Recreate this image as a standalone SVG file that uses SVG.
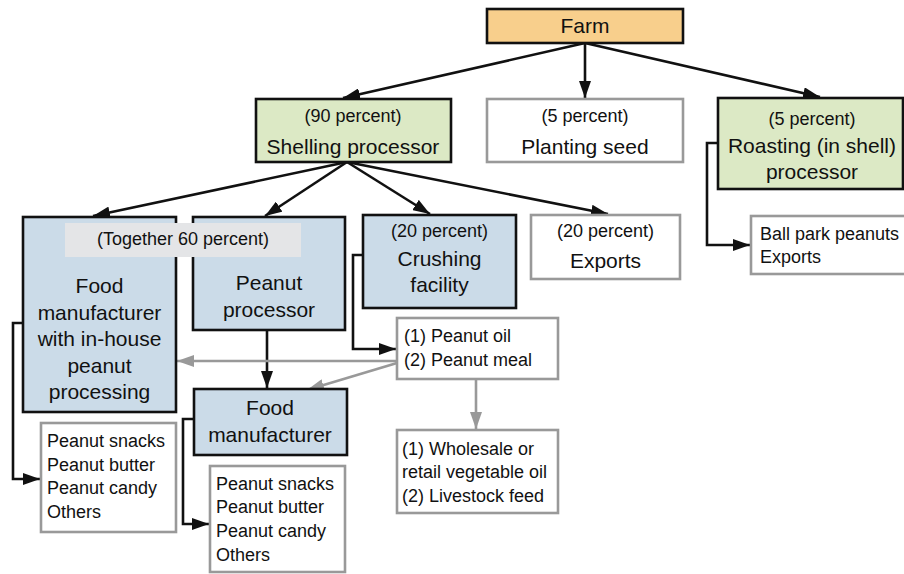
<svg xmlns="http://www.w3.org/2000/svg" width="904" height="574" viewBox="0 0 904 574">
<defs>
<style>
text{font-family:"Liberation Sans",Arial,sans-serif;fill:#111}
.big{font-size:21px;text-anchor:middle}
.pct{font-size:18px;text-anchor:middle}
.lst{font-size:18px}
.bk{stroke:#111;stroke-width:2.6}
.gy{fill:#fff;stroke:#999;stroke-width:2.6}
.orange{fill:#f8cf8c}
.green{fill:#dce9c5}
.blue{fill:#cbdbe8}
.cb{fill:none;stroke:#111;stroke-width:2.6;marker-end:url(#ab)}
.cg{fill:none;stroke:#999;stroke-width:2.6;marker-end:url(#ag)}
</style>
<marker id="ab" viewBox="0 0 17 12" refX="17" refY="6" markerWidth="17" markerHeight="12" markerUnits="userSpaceOnUse" orient="auto"><path d="M0,0L17,6L0,12z" fill="#111"/></marker>
<marker id="ag" viewBox="0 0 17 12" refX="17" refY="6" markerWidth="17" markerHeight="12" markerUnits="userSpaceOnUse" orient="auto"><path d="M0,0L17,6L0,12z" fill="#999"/></marker>
</defs>
<rect width="904" height="574" fill="#fff"/>
<g id="connectors">
<line class="cb" x1="585" y1="43" x2="343" y2="98"/>
<line class="cb" x1="585" y1="43" x2="585" y2="98"/>
<line class="cb" x1="585" y1="43" x2="820" y2="97"/>
<line class="cb" x1="347" y1="162" x2="93" y2="216"/>
<line class="cb" x1="347" y1="162" x2="265" y2="216"/>
<line class="cb" x1="347" y1="162" x2="430" y2="214"/>
<line class="cb" x1="347" y1="162" x2="608" y2="214"/>
<line class="cb" x1="267" y1="330" x2="267" y2="388"/>
<polyline class="cb" points="363,255 353,255 353,349 396,349"/>
<line class="cg" x1="397" y1="361" x2="177" y2="361"/>
<line class="cg" x1="397" y1="363" x2="307" y2="390"/>
<line class="cg" x1="476" y1="379" x2="476" y2="429"/>
<polyline class="cb" points="23,323 13,323 13,479 40,479"/>
<polyline class="cb" points="194,419 183,419 183,524 209,524"/>
<polyline class="cb" points="718,143 707,143 707,245 750,245"/>
</g>
<g id="farm"><rect class="orange bk" x="487" y="9" width="196" height="34"/><text class="big" x="585" y="33">Farm</text></g>
<g id="shelling"><rect class="green bk" x="256" y="99" width="195" height="63"/><text class="pct" x="353" y="122">(90 percent)</text><text class="big" x="353" y="154">Shelling processor</text></g>
<g id="planting"><rect class="gy" x="487" y="99" width="196" height="63"/><text class="pct" x="585" y="122">(5 percent)</text><text class="big" x="585" y="154">Planting seed</text></g>
<g id="roasting"><rect class="green bk" x="718" y="98" width="185" height="91"/><text class="pct" x="812" y="125">(5 percent)</text><text class="big" x="812" y="153">Roasting (in shell)</text><text class="big" x="812" y="179">processor</text></g>
<g id="ballpark"><rect class="gy" x="751" y="216" width="170" height="58"/><text class="lst" x="760" y="240">Ball park peanuts</text><text class="lst" x="760" y="263">Exports</text></g>
<g id="inhouse"><rect class="blue bk" x="23" y="217" width="153" height="195"/><text class="big" x="99.5" y="293">Food</text><text class="big" x="99.5" y="319.5">manufacturer</text><text class="big" x="99.5" y="346">with in-house</text><text class="big" x="99.5" y="372.5">peanut</text><text class="big" x="99.5" y="399">processing</text></g>
<g id="peanutproc"><rect class="blue bk" x="193" y="217" width="152" height="113"/><text class="big" x="269" y="290">Peanut</text><text class="big" x="269" y="317">processor</text></g>
<g id="together"><rect x="65" y="223" width="236" height="34" fill="#e4e5e7"/><text class="pct" x="183" y="245">(Together 60 percent)</text></g>
<g id="crushing"><rect class="blue bk" x="363" y="215" width="153" height="93"/><text class="pct" x="439.5" y="237">(20 percent)</text><text class="big" x="439.5" y="266">Crushing</text><text class="big" x="439.5" y="292">facility</text></g>
<g id="exports"><rect class="gy" x="531" y="215" width="149" height="64"/><text class="pct" x="605.5" y="237">(20 percent)</text><text class="big" x="605.5" y="268">Exports</text></g>
<g id="oil"><rect class="gy" x="397" y="318" width="161" height="61"/><text class="lst" x="404" y="342">(1) Peanut oil</text><text class="lst" x="404" y="366">(2) Peanut meal</text></g>
<g id="wholesale"><rect class="gy" x="397" y="430" width="161" height="83"/><text class="lst" x="402" y="455">(1) Wholesale or</text><text class="lst" x="402" y="478">retail vegetable oil</text><text class="lst" x="402" y="502">(2) Livestock feed</text></g>
<g id="foodmanuf"><rect class="blue bk" x="194" y="389" width="153" height="66"/><text class="big" x="270" y="415">Food</text><text class="big" x="270" y="442">manufacturer</text></g>
<g id="products1"><rect class="gy" x="41" y="423" width="135" height="109"/><text class="lst" x="47" y="447">Peanut snacks</text><text class="lst" x="47" y="471">Peanut butter</text><text class="lst" x="47" y="494">Peanut candy</text><text class="lst" x="47" y="518">Others</text></g>
<g id="products2"><rect class="gy" x="210" y="466" width="135" height="106" /><text class="lst" x="216" y="490">Peanut snacks</text><text class="lst" x="216" y="513">Peanut butter</text><text class="lst" x="216" y="537">Peanut candy</text><text class="lst" x="216" y="561">Others</text></g>
</svg>
